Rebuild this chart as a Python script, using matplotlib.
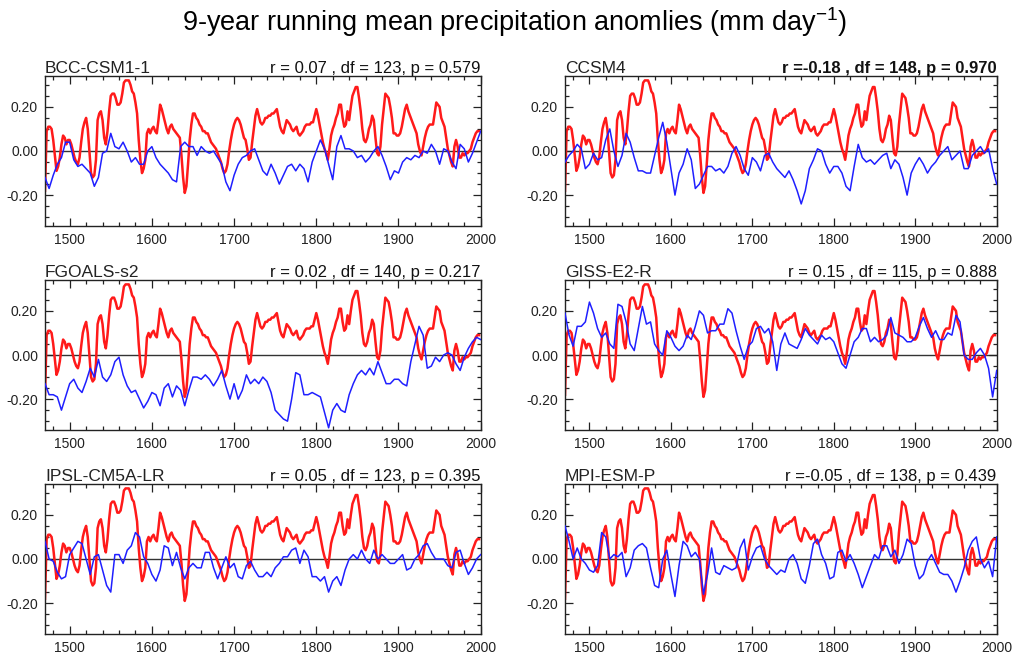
import numpy as np
import matplotlib
matplotlib.use("Agg")
import matplotlib.pyplot as plt
from matplotlib.ticker import MultipleLocator, FormatStrFormatter

plt.rcParams['font.family'] = ['Liberation Sans', 'DejaVu Sans']
plt.rcParams['mathtext.fontset'] = 'custom'
plt.rcParams['mathtext.rm'] = 'Liberation Sans'
plt.rcParams['mathtext.it'] = 'Liberation Sans:italic'
plt.rcParams['mathtext.bf'] = 'Liberation Sans:bold'

# Observed reconstruction: 9-year running mean, every 2 years (1470-1998)
obs_years = np.arange(1470, 1999, 2)
observed = [
    -0.18, 0.09, 0.11, 0.11, 0.10, 0.05, -0.02, -0.09, -0.07, -0.03,
    0.03, 0.07, 0.06, 0.03, 0.05, 0.05, 0.03, 0.00, -0.03, -0.05,
    -0.06, -0.03, 0.04, 0.10, 0.13, 0.15, 0.10, 0.00, -0.10, -0.12,
    -0.11, -0.04, 0.14, 0.17, 0.18, 0.14, 0.06, 0.03, 0.09, 0.18,
    0.25, 0.26, 0.26, 0.24, 0.21, 0.21, 0.22, 0.26, 0.31, 0.32,
    0.32, 0.32, 0.30, 0.27, 0.26, 0.22, 0.17, 0.05, -0.04, -0.10,
    -0.08, -0.04, 0.08, 0.10, 0.08, 0.10, 0.11, 0.09, 0.08, 0.14,
    0.21, 0.19, 0.16, 0.13, 0.10, 0.08, 0.11, 0.12, 0.10, 0.09,
    0.08, 0.07, 0.06, -0.02, -0.12, -0.19, -0.16, -0.06, 0.05, 0.12,
    0.17, 0.17, 0.15, 0.14, 0.12, 0.11, 0.09, 0.09, 0.08, 0.08,
    0.06, 0.04, 0.03, 0.02, 0.01, -0.01, -0.03, -0.05, -0.08, -0.10,
    -0.09, -0.06, 0.00, 0.05, 0.09, 0.12, 0.14, 0.15, 0.14, 0.12,
    0.09, 0.06, 0.05, 0.01, -0.04, -0.03, 0.04, 0.10, 0.16, 0.19,
    0.16, 0.13, 0.12, 0.13, 0.15, 0.15, 0.16, 0.16, 0.17, 0.17,
    0.18, 0.19, 0.15, 0.11, 0.09, 0.08, 0.11, 0.14, 0.13, 0.12,
    0.10, 0.09, 0.10, 0.11, 0.08, 0.07, 0.08, 0.09, 0.11, 0.12,
    0.12, 0.12, 0.13, 0.13, 0.16, 0.19, 0.16, 0.12, 0.08, 0.04,
    0.01, -0.01, -0.04, 0.01, 0.07, 0.10, 0.12, 0.15, 0.17, 0.21,
    0.21, 0.15, 0.11, 0.12, 0.18, 0.14, 0.20, 0.25, 0.27, 0.29,
    0.29, 0.24, 0.18, 0.10, 0.05, 0.04, 0.06, 0.10, 0.12, 0.16,
    0.14, 0.06, -0.01, -0.02, 0.02, 0.12, 0.19, 0.26, 0.25, 0.24,
    0.20, 0.15, 0.08, 0.08, 0.07, 0.07, 0.08, 0.11, 0.15, 0.19,
    0.21, 0.18, 0.16, 0.14, 0.12, 0.10, 0.08, 0.03, 0.00, -0.02,
    0.02, 0.06, 0.09, 0.11, 0.12, 0.12, 0.12, 0.17, 0.22, 0.21,
    0.20, 0.15, 0.13, 0.11, 0.06, 0.01, -0.02, -0.05, -0.07, 0.02,
    0.05, 0.02, -0.03, -0.03, -0.01, -0.02, -0.01, -0.01, 0.00, 0.01,
    0.04, 0.06, 0.08, 0.09, 0.09,
]

# Model simulations: 9-year running mean, every 5 years (1470-2000)
model_years = np.arange(1470, 2001, 5)

bcc_csm1_1 = [
    -0.12, -0.17, -0.11, -0.06, -0.03, 0.04, 0.04, -0.04, -0.07, -0.06,
    -0.08, -0.10, -0.16, -0.12, -0.01, 0.00, 0.08, 0.02, 0.01, 0.04,
    0.00, -0.05, -0.03, -0.06, -0.06, 0.00, 0.02, -0.03, -0.06, -0.08,
    -0.10, -0.13, -0.14, 0.02, 0.04, 0.02, 0.02, -0.02, 0.02, 0.00,
    -0.01, 0.00, -0.03, -0.06, -0.14, -0.18, -0.11, -0.06, -0.03, -0.02,
    0.00, 0.01, -0.04, -0.09, -0.11, -0.06, -0.10, -0.15, -0.11, -0.07,
    -0.06, -0.09, -0.06, -0.08, -0.14, -0.05, 0.00, 0.05, 0.01, -0.06,
    -0.13, 0.02, 0.07, 0.01, 0.01, 0.00, -0.03, -0.02, -0.05, -0.03,
    0.00, 0.02, -0.02, -0.07, -0.13, -0.09, -0.10, -0.05, -0.03, -0.04,
    -0.02, -0.03, 0.00, -0.01, 0.03, 0.00, -0.06, 0.01, 0.00, -0.05,
    -0.08, 0.03, 0.01, -0.05, -0.01, 0.04, 0.09,
]

ccsm4 = [
    -0.05, -0.02, 0.00, 0.03, 0.01, -0.08, -0.06, -0.01, -0.04, -0.03,
    0.05, 0.10, 0.00, -0.07, -0.02, 0.08, 0.04, -0.03, -0.09, -0.09,
    -0.10, -0.10, -0.02, 0.06, 0.13, 0.04, -0.08, -0.20, -0.10, -0.06,
    0.01, -0.04, -0.17, -0.15, -0.11, -0.07, -0.07, -0.09, -0.08, -0.10,
    -0.07, -0.01, 0.02, -0.02, -0.08, -0.11, -0.03, -0.05, -0.09, -0.02,
    -0.01, -0.05, -0.08, -0.10, -0.12, -0.09, -0.13, -0.18, -0.24, -0.18,
    -0.08, -0.04, 0.01, 0.00, -0.06, -0.10, -0.07, -0.07, -0.10, -0.16,
    -0.18, -0.07, 0.03, -0.03, -0.05, -0.04, -0.06, -0.04, -0.02, -0.01,
    -0.08, -0.04, -0.06, -0.12, -0.20, -0.10, -0.06, -0.03, -0.06, -0.10,
    -0.07, -0.05, -0.02, 0.00, 0.02, -0.04, -0.02, 0.00, -0.08, -0.08,
    -0.02, 0.00, 0.02, -0.01, 0.01, -0.08, -0.15,
]

fgoals_s2 = [
    -0.13, -0.18, -0.18, -0.19, -0.25, -0.19, -0.13, -0.11, -0.15, -0.17,
    -0.12, -0.06, -0.10, -0.02, -0.10, -0.12, -0.09, -0.03, -0.01, -0.09,
    -0.14, -0.17, -0.16, -0.20, -0.24, -0.21, -0.17, -0.18, -0.23, -0.15,
    -0.13, -0.19, -0.14, -0.16, -0.23, -0.16, -0.10, -0.10, -0.11, -0.09,
    -0.11, -0.14, -0.11, -0.07, -0.14, -0.20, -0.13, -0.20, -0.16, -0.09,
    -0.13, -0.11, -0.13, -0.10, -0.12, -0.17, -0.25, -0.27, -0.29, -0.30,
    -0.20, -0.08, -0.09, -0.18, -0.18, -0.17, -0.18, -0.19, -0.26, -0.33,
    -0.25, -0.22, -0.25, -0.26, -0.18, -0.13, -0.09, -0.07, -0.09, -0.06,
    -0.09, -0.03, -0.08, -0.13, -0.13, -0.11, -0.11, -0.13, -0.14, -0.03,
    0.05, 0.13, 0.09, -0.06, -0.05, -0.01, -0.03, 0.00, 0.01, 0.00,
    -0.04, -0.07, -0.01, 0.03, 0.06, 0.08, 0.07,
]

giss_e2_r = [
    0.19, 0.09, 0.04, 0.13, 0.13, 0.15, 0.24, 0.19, 0.12, 0.08,
    0.10, 0.05, 0.03, 0.23, 0.22, 0.15, 0.05, 0.02, 0.12, 0.22,
    0.14, 0.15, 0.05, 0.02, 0.00, 0.11, 0.08, 0.04, 0.02, 0.04,
    0.09, 0.07, 0.13, 0.20, 0.18, 0.10, 0.11, 0.11, 0.14, 0.14,
    0.21, 0.19, 0.11, 0.04, -0.02, 0.04, 0.06, 0.12, 0.13, 0.10,
    0.12, 0.06, -0.07, 0.05, 0.10, 0.05, 0.04, 0.03, 0.07, 0.12,
    0.09, 0.07, 0.05, 0.09, 0.07, 0.08, 0.06, 0.01, -0.04, -0.06,
    0.00, 0.06, 0.08, 0.12, 0.12, 0.06, 0.08, 0.06, 0.07, 0.09,
    0.17, 0.10, 0.09, 0.08, 0.06, 0.06, 0.08, 0.13, 0.17, 0.12,
    0.08, 0.11, 0.07, 0.07, 0.10, 0.09, 0.18, 0.15, 0.00, -0.02,
    -0.02, 0.01, 0.03, 0.00, -0.06, -0.19, -0.07,
]

ipsl_cm5a_lr = [
    0.08, 0.00, -0.01, -0.06, -0.09, -0.08, 0.02, 0.05, 0.08, 0.07,
    0.00, -0.07, 0.01, 0.02, -0.05, -0.12, -0.15, 0.02, 0.02, -0.02,
    0.04, 0.06, 0.12, 0.10, 0.01, -0.02, -0.07, -0.10, -0.05, 0.06,
    0.05, -0.03, 0.03, -0.04, -0.09, -0.04, -0.02, -0.04, -0.04, 0.03,
    0.03, -0.04, -0.09, -0.04, 0.01, -0.04, -0.02, -0.08, -0.09, -0.03,
    -0.01, -0.05, -0.08, -0.08, -0.06, -0.08, -0.04, -0.02, 0.01, 0.01,
    0.04, 0.05, -0.02, 0.04, 0.01, -0.08, -0.08, -0.10, -0.08, -0.15,
    -0.10, -0.08, -0.12, -0.05, 0.00, 0.02, 0.00, 0.04, 0.00, -0.02,
    0.04, 0.00, 0.02, 0.00, -0.02, -0.02, 0.00, 0.02, -0.05, -0.04,
    0.00, 0.02, 0.06, 0.07, 0.03, 0.00, 0.00, 0.00, -0.03, -0.04,
    0.03, 0.04, -0.02, -0.07, -0.04, 0.00, 0.02,
]

mpi_esm_p = [
    0.15, 0.08, 0.00, 0.05, 0.00, -0.02, -0.05, -0.06, -0.03, 0.12,
    0.10, 0.00, 0.02, 0.01, 0.03, -0.08, -0.04, 0.04, 0.06, 0.07,
    0.05, -0.04, -0.12, -0.13, 0.00, 0.04, -0.07, -0.17, -0.03, 0.08,
    0.06, 0.01, 0.03, 0.00, -0.16, -0.07, 0.05, -0.06, -0.07, -0.03,
    -0.04, -0.05, -0.04, 0.05, 0.09, -0.05, 0.01, 0.05, 0.06, 0.00,
    -0.03, -0.05, -0.07, -0.05, -0.06, 0.00, 0.02, -0.02, -0.09, -0.11,
    -0.03, 0.07, 0.09, 0.02, -0.02, -0.09, -0.08, 0.03, 0.04, -0.01,
    0.02, -0.02, -0.07, -0.13, -0.08, -0.03, 0.02, 0.00, 0.06, 0.06,
    0.01, 0.04, -0.02, 0.02, 0.09, 0.07, -0.03, -0.09, -0.07, -0.01,
    0.02, -0.02, -0.06, -0.07, -0.07, -0.10, -0.15, -0.10, -0.04, 0.04,
    0.08, 0.10, 0.00, -0.04, -0.01, -0.08, 0.10,
]

model_names = ["BCC-CSM1-1", "CCSM4", "FGOALS-s2", "GISS-E2-R", "IPSL-CM5A-LR", "MPI-ESM-P"]
model_series = [bcc_csm1_1, ccsm4, fgoals_s2, giss_e2_r, ipsl_cm5a_lr, mpi_esm_p]
stats_labels = [
    "r = 0.07 , df = 123, p = 0.579",
    "r =-0.18 , df = 148, p = 0.970",
    "r = 0.02 , df = 140, p = 0.217",
    "r = 0.15 , df = 115, p = 0.888",
    "r = 0.05 , df = 123, p = 0.395",
    "r =-0.05 , df = 138, p = 0.439",
]
significant = [False, True, False, False, False, False]

W, H = 1015, 656
fig = plt.figure(figsize=(W / 100, H / 100), dpi=100)

col_x = [(45, 435.7), (565, 431.7)]
row_y = [(76, 150), (280, 150), (484, 150)]

fig.text(0.507, 1 - 22 / H, "9-year running mean precipitation anomlies (mm day$^{-1}$)",
         ha="center", va="center", fontsize=19.5)

for i, (name, blue, stat, bold) in enumerate(zip(model_names, model_series, stats_labels, significant)):
    r, c = divmod(i, 2)
    x0, w = col_x[c]
    y0, h = row_y[r]
    ax = fig.add_axes([x0 / W, 1 - (y0 + h) / H, w / W, h / H])
    ax.axhline(0, color="#333333", lw=1.0, zorder=1)
    ax.plot(obs_years, observed, color="#ff1a1a", lw=1.8, zorder=2)
    ax.plot(model_years, blue, color="#1f1fff", lw=1.1, zorder=3)
    ax.set_xlim(1470, 2000)
    ax.set_ylim(-0.34, 0.34)
    ax.xaxis.set_major_locator(MultipleLocator(100))
    ax.xaxis.set_minor_locator(MultipleLocator(20))
    ax.yaxis.set_major_locator(MultipleLocator(0.2))
    ax.yaxis.set_minor_locator(MultipleLocator(0.05))
    ax.yaxis.set_major_formatter(FormatStrFormatter("%.2f"))
    ax.tick_params(which="both", direction="in", top=True, right=True,
                   labelsize=10, colors="#222222", width=0.9)
    ax.tick_params(which="major", length=6, pad=5)
    ax.tick_params(which="minor", length=3)
    for sp in ax.spines.values():
        sp.set_linewidth(1.0)
        sp.set_color("#222222")
    ax.set_title(name, loc="left", fontsize=12.5, pad=1.5, color="#222222")
    ax.set_title(stat, loc="right", fontsize=12, pad=1.5, color="#111111",
                 fontweight="bold" if bold else "normal")

fig.savefig("out.png", dpi=100)
